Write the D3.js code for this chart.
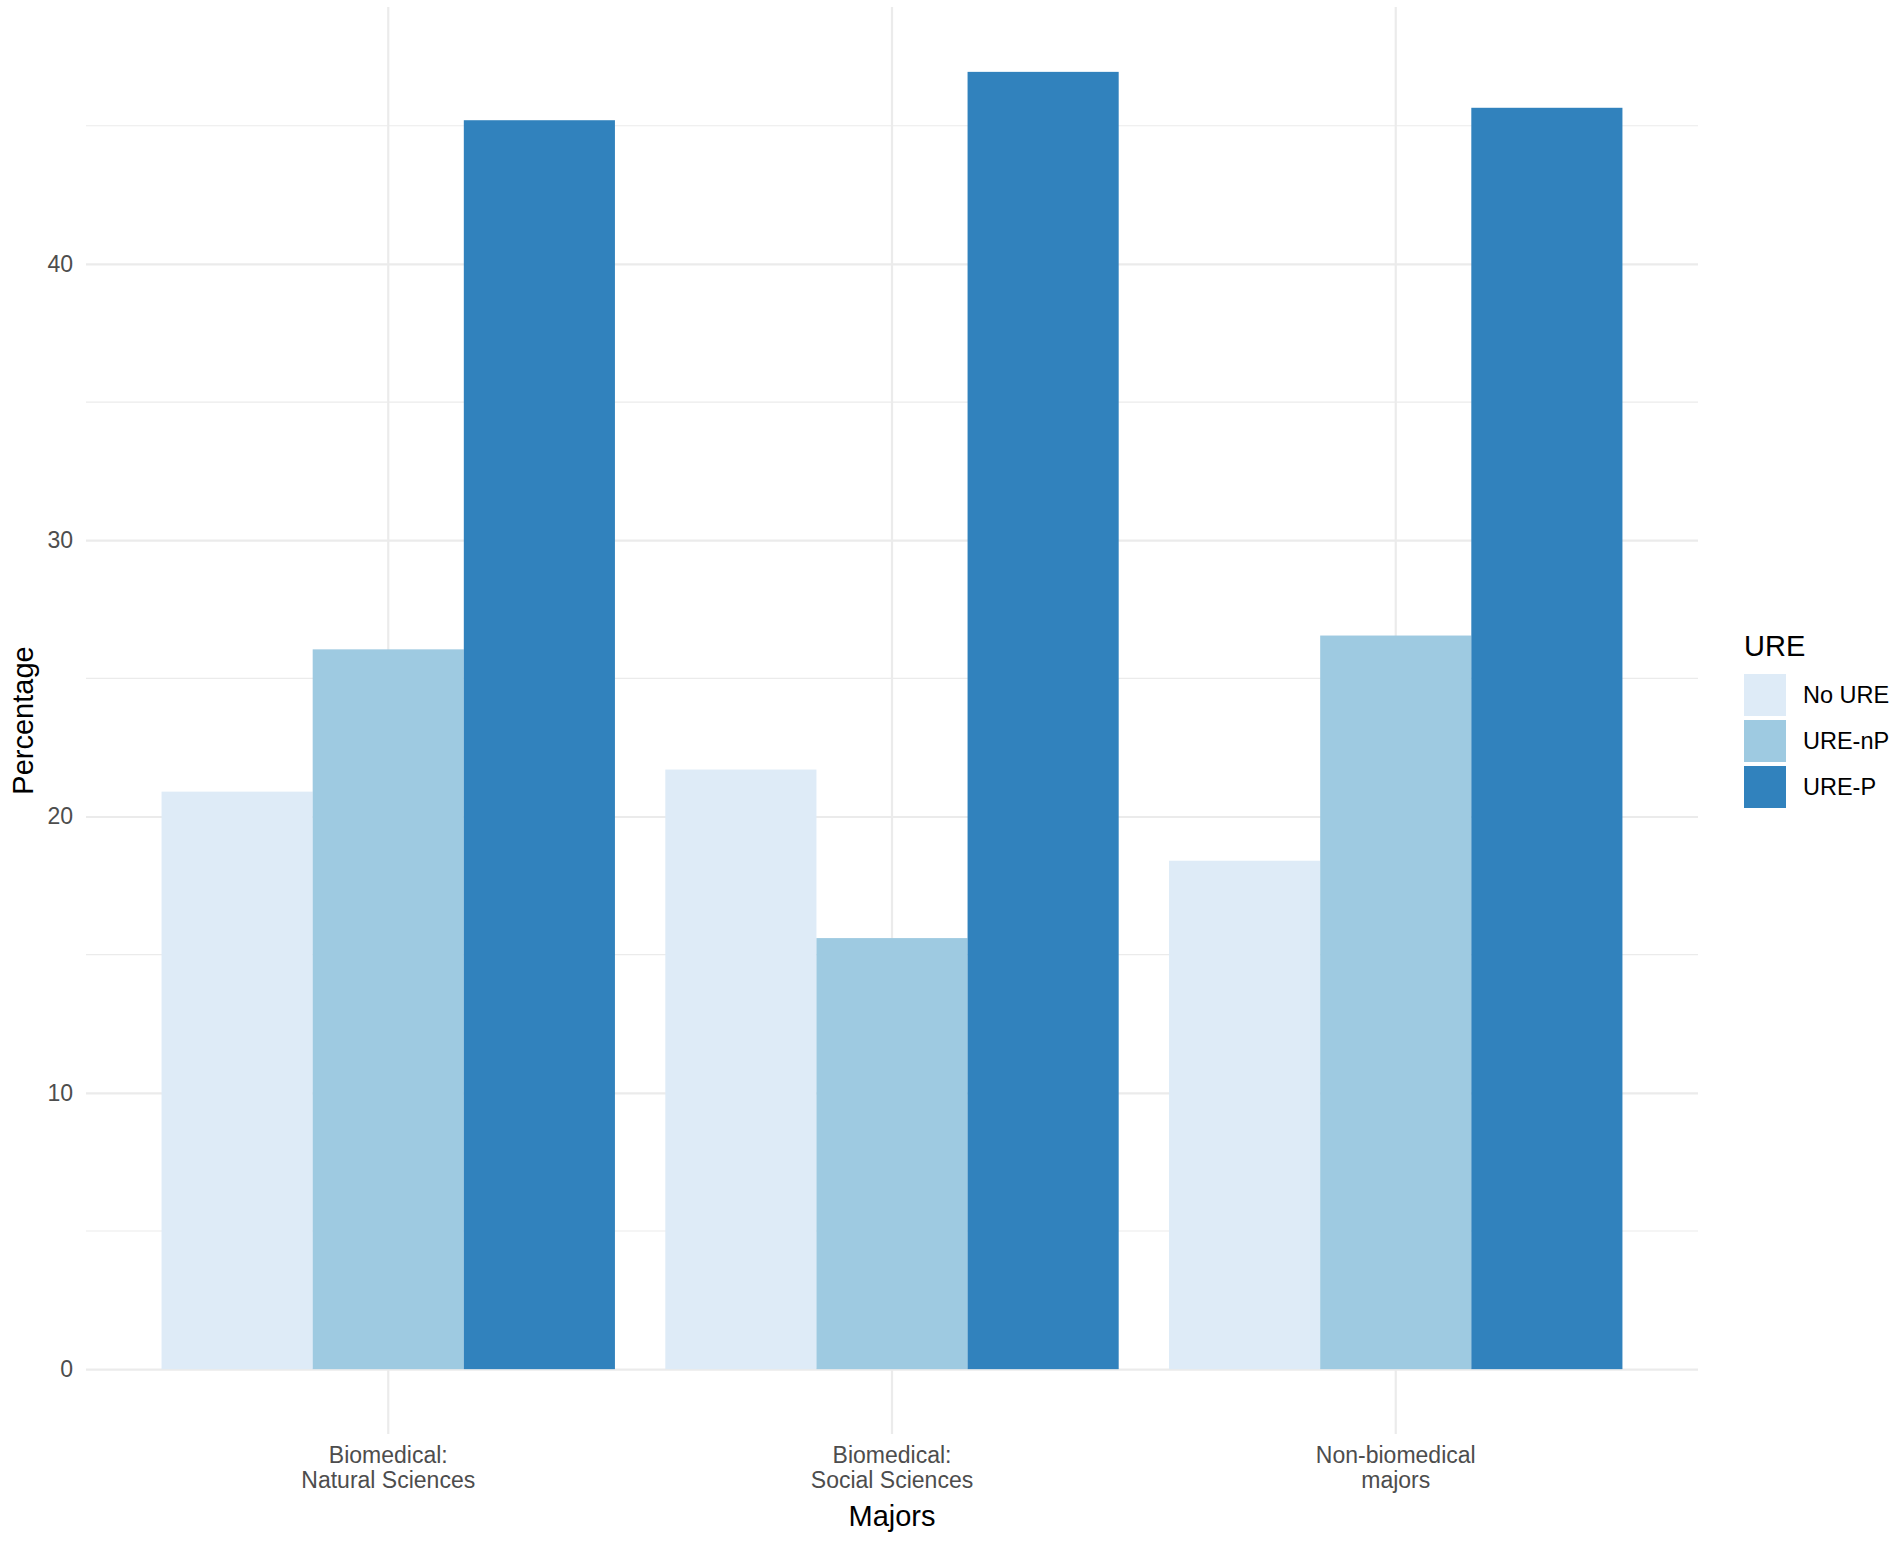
<!DOCTYPE html>
<html>
<head>
<meta charset="utf-8">
<script src="https://cdn.jsdelivr.net/npm/d3@7"></script>
<style>
  body { margin: 0; background: #fff; }
  text { font-family: "Liberation Sans", Arial, sans-serif; }
</style>
</head>
<body>
<script>
// Data
var majors = ["Biomedical:\nNatural Sciences", "Biomedical:\nSocial Sciences", "Non-biomedical\nmajors"];
var groups = ["No URE", "URE-nP", "URE-P"];
var noURE = [20.9, 21.7, 18.4];
var ureNP = [26.05, 15.6, 26.55];
var ureP = [45.2, 46.95, 45.65];
var yTicks = [0, 10, 20, 30, 40];
var yMinor = [5, 15, 25, 35, 45];
var colors = ["#deebf7", "#9ecae1", "#3182bd"];

// Set panel box
var panel = {left: 86, right: 1698, top: 7, bottom: 1434};
var width = panel.right - panel.left;
var height = panel.bottom - panel.top;

var svg = d3.select("body").append("svg")
    .attr("width", 1902)
    .attr("height", 1541);

var g = svg.append("g")
    .attr("transform", "translate(" + panel.left + "," + panel.top + ")");

// rows for bars
var rows = [];
var series = [noURE, ureNP, ureP];
majors.forEach(function(m, i) {
    groups.forEach(function(s, j) {
        rows.push({major: m, group: s, value: series[j][i]});
    });
});

// scales
var x = d3.scaleBand().domain(majors).range([0, width])
    .paddingInner(0.1).paddingOuter(0.15);
var xInner = d3.scaleBand().domain(groups).range([0, x.bandwidth()]);
var maxVal = d3.max(rows, function(d) { return d.value; });
var pad = maxVal * 0.05;
var y = d3.scaleLinear().domain([-pad, maxVal + pad]).range([height, 0]);
var color = d3.scaleOrdinal().domain(groups).range(colors);

// minor gridlines
g.selectAll(".minor")
    .data(yMinor)
    .enter().append("line")
    .attr("x1", 0).attr("x2", width)
    .attr("y1", function(d) { return y(d); })
    .attr("y2", function(d) { return y(d); })
    .attr("stroke", "#ebebeb")
    .attr("stroke-width", 1.2);

// major gridlines (horizontal)
var yGrid = g.append("g")
    .call(d3.axisLeft(y).tickValues(yTicks).tickSize(-width).tickFormat(""));
yGrid.select(".domain").remove();
yGrid.selectAll("line").attr("stroke", "#ebebeb").attr("stroke-width", 2.2);

// major gridlines (vertical)
var xGrid = g.append("g")
    .attr("transform", "translate(0," + height + ")")
    .call(d3.axisBottom(x).tickSize(-height).tickFormat(""));
xGrid.select(".domain").remove();
xGrid.selectAll("line").attr("stroke", "#ebebeb").attr("stroke-width", 2.2);

// bars
g.selectAll(".bar")
    .data(rows)
    .enter().append("rect")
    .attr("x", function(d) { return x(d.major) + xInner(d.group); })
    .attr("width", xInner.bandwidth())
    .attr("y", function(d) { return y(d.value); })
    .attr("height", function(d) { return y(0) - y(d.value); })
    .attr("fill", function(d) { return color(d.group); });

// y tick labels
var yAxis = g.append("g")
    .call(d3.axisLeft(y).tickValues(yTicks).tickSize(0).tickPadding(13));
yAxis.select(".domain").remove();
yAxis.selectAll("text")
    .style("font-family", "'Liberation Sans', Arial, sans-serif")
    .style("font-size", "23px")
    .attr("fill", "#4d4d4d");

// x tick labels (two lines)
var xAxis = g.append("g")
    .attr("transform", "translate(0," + height + ")")
    .call(d3.axisBottom(x).tickSize(0).tickFormat(""));
xAxis.select(".domain").remove();
xAxis.selectAll(".tick").each(function(d) {
    var t = d3.select(this).append("text")
        .attr("text-anchor", "middle")
        .attr("fill", "#4d4d4d")
        .style("font-size", "23px");
    d.split("\n").forEach(function(line, i) {
        t.append("tspan").attr("x", 0).attr("y", 29 + i * 25).text(line);
    });
});

// axis titles
svg.append("text")
    .attr("x", panel.left + width / 2)
    .attr("y", 1526)
    .attr("text-anchor", "middle")
    .style("font-size", "29px")
    .attr("fill", "#000")
    .text("Majors");

svg.append("text")
    .attr("transform", "translate(33," + (panel.top + height / 2) + ") rotate(-90)")
    .attr("text-anchor", "middle")
    .style("font-size", "29px")
    .attr("fill", "#000")
    .text("Percentage");

// legend
var legend = svg.append("g").attr("transform", "translate(1744,674)");
legend.append("text")
    .attr("x", 0).attr("y", -18)
    .style("font-size", "29px")
    .attr("fill", "#000")
    .text("URE");
var keys = legend.selectAll(".key")
    .data(groups)
    .enter().append("g")
    .attr("transform", function(d, i) { return "translate(0," + (i * 46) + ")"; });
keys.append("rect")
    .attr("width", 42).attr("height", 42)
    .attr("fill", function(d) { return color(d); });
keys.append("text")
    .attr("x", 59).attr("y", 21)
    .attr("dy", "0.35em")
    .style("font-size", "23.5px")
    .attr("fill", "#000")
    .text(function(d) { return d; });
</script>
</body>
</html>
